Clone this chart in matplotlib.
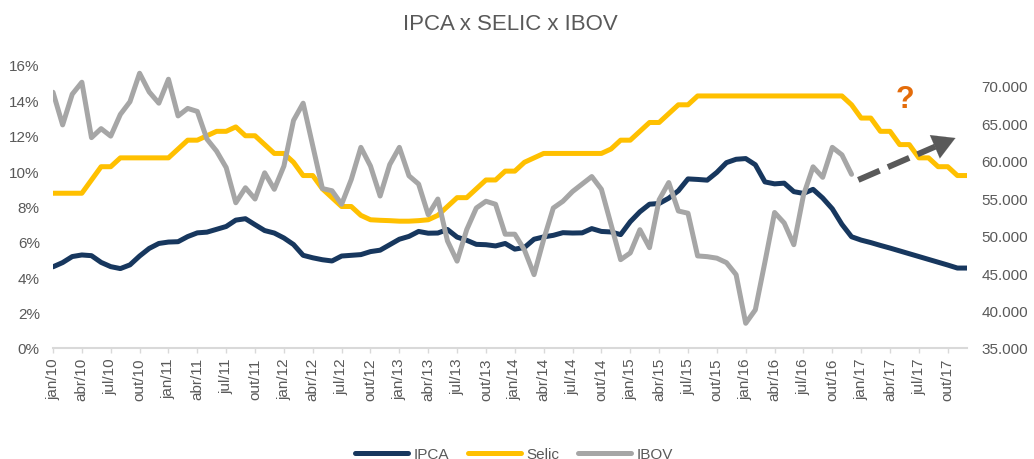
import numpy as np
import matplotlib
matplotlib.use('Agg')
import matplotlib.pyplot as plt
from matplotlib.ticker import FuncFormatter

plt.rcParams['font.family'] = ['Liberation Sans', 'DejaVu Sans']

# meses jan/10 .. dez/17
meses = ['jan', 'fev', 'mar', 'abr', 'mai', 'jun', 'jul', 'ago', 'set', 'out', 'nov', 'dez']
anos = ['10', '11', '12', '13', '14', '15', '16', '17']
labels = [m + '/' + a for a in anos for m in meses]

# IPCA 12m (%)
ipca = [4.59, 4.83, 5.17, 5.26, 5.22, 4.84, 4.60, 4.49, 4.70, 5.20, 5.63, 5.91,
        5.99, 6.01, 6.30, 6.51, 6.55, 6.71, 6.87, 7.23, 7.31, 6.97, 6.64, 6.50,
        6.22, 5.85, 5.24, 5.10, 4.99, 4.92, 5.20, 5.24, 5.28, 5.45, 5.53, 5.84,
        6.15, 6.31, 6.59, 6.49, 6.50, 6.70, 6.27, 6.09, 5.86, 5.84, 5.77, 5.91,
        5.59, 5.68, 6.15, 6.28, 6.37, 6.52, 6.50, 6.51, 6.75, 6.59, 6.56, 6.41,
        7.14, 7.70, 8.13, 8.17, 8.47, 8.89, 9.56, 9.53, 9.49, 9.93, 10.48, 10.67,
        10.71, 10.36, 9.39, 9.28, 9.32, 8.84, 8.74, 8.97, 8.48, 7.87, 6.99, 6.29,
        6.10, 5.96, 5.80, 5.65, 5.49, 5.33, 5.17, 5.01, 4.85, 4.69, 4.52, 4.52]

# Selic meta (%)
selic = [8.75, 8.75, 8.75, 8.75, 9.50, 10.25, 10.25, 10.75, 10.75, 10.75, 10.75, 10.75,
         10.75, 11.25, 11.75, 11.75, 12.00, 12.25, 12.25, 12.50, 12.00, 12.00, 11.50, 11.00,
         11.00, 10.50, 9.75, 9.75, 9.00, 8.50, 8.00, 8.00, 7.50, 7.25, 7.22, 7.20,
         7.17, 7.17, 7.20, 7.25, 7.50, 8.00, 8.50, 8.50, 9.00, 9.50, 9.50, 10.00,
         10.00, 10.50, 10.75, 11.00, 11.00, 11.00, 11.00, 11.00, 11.00, 11.00, 11.25, 11.75,
         11.75, 12.25, 12.75, 12.75, 13.25, 13.75, 13.75, 14.25, 14.25, 14.25, 14.25, 14.25,
         14.25, 14.25, 14.25, 14.25, 14.25, 14.25, 14.25, 14.25, 14.25, 14.25, 14.25, 13.75,
         13.00, 13.00, 12.25, 12.25, 11.50, 11.50, 10.75, 10.75, 10.25, 10.25, 9.75, 9.75]

# Ibovespa (pontos), ate dez/16
ibov = [69160, 64800, 68900, 70500, 63100, 64300, 63300, 66200, 67900, 71700, 69200, 67700,
        70900, 66000, 67000, 66600, 62900, 61300, 59100, 54400, 56400, 54900, 58400, 56200,
        59300, 65400, 67700, 62000, 56300, 56000, 54200, 57500, 61800, 59300, 55300, 59500,
        61800, 58000, 56900, 52800, 54900, 49300, 46600, 50800, 53700, 54600, 54200, 50200,
        50200, 48100, 44800, 49500, 53700, 54600, 55900, 56900, 57900, 56200, 51500, 46800,
        47700, 50800, 48400, 54800, 57100, 53300, 53000, 47300, 47200, 47000, 46400, 44800,
        38300, 40100, 46500, 53100, 51700, 48800, 55400, 59200, 57800, 61800, 60800, 58200]
ibov = ibov + [np.nan] * (len(labels) - len(ibov))

# seta de tendencia (eixo IBOV) e interrogacao
seta_ini = (83.7, 57450)
seta_base = (91.7, 61900)
seta_fim = (93.8, 63050)
interrog = (88.6, 14.1)

cinza = '#595959'

fig = plt.figure(figsize=(10.34, 4.6), dpi=100)
ax = fig.add_axes([53 / 1034, 1 - 349 / 460, (967 - 53) / 1034, (349 - 66) / 460])
ax2 = ax.twinx()

x = np.arange(len(labels))
l1, = ax.plot(x, ipca, color='#17375E', lw=3.6, solid_capstyle='round', solid_joinstyle='round', label='IPCA')
l2, = ax.plot(x, selic, color='#FFC000', lw=3.6, solid_capstyle='round', solid_joinstyle='round', label='Selic')
l3, = ax2.plot(x, ibov, color='#A6A6A6', lw=3.6, solid_capstyle='round', solid_joinstyle='round', label='IBOV')

# seta tracejada
ax2.plot([seta_ini[0], seta_base[0]], [seta_ini[1], seta_base[1]], color=cinza, lw=4.3,
         dashes=(3.9, 1.5), solid_capstyle='butt', dash_capstyle='butt')
ax2.annotate('', xy=seta_fim, xytext=seta_base,
             arrowprops=dict(arrowstyle='-|>,head_length=1.0,head_width=0.57', mutation_scale=16,
                             color=cinza, lw=0.1, shrinkA=0, shrinkB=0))
ax.text(interrog[0], interrog[1], '?', color='#E46C0A', fontsize=22, fontweight='bold',
        ha='center', va='center')

ax.set_xlim(0, len(labels) - 1)
ax.set_ylim(0, 16)
ax2.set_ylim(35000, 72800)

ax.set_xticks(x[::3])
ax.set_xticklabels(labels[::3], rotation=90)
ax.set_yticks(range(0, 17, 2))
ax.yaxis.set_major_formatter(FuncFormatter(lambda v, p: '%d%%' % v))
ax2.set_yticks(range(35000, 70001, 5000))
ax2.yaxis.set_major_formatter(FuncFormatter(lambda v, p: '{:,.0f}'.format(v).replace(',', '.')))

ax.tick_params(axis='x', length=3.6, width=1, color='#D9D9D9', pad=3, labelsize=11, labelcolor=cinza)
ax.tick_params(axis='y', length=0, pad=9.5, labelsize=11, labelcolor=cinza)
ax2.tick_params(axis='y', length=0, pad=10.5, labelsize=11, labelcolor=cinza)

for a in (ax, ax2):
    for s in ('top', 'left', 'right'):
        a.spines[s].set_visible(False)
ax2.spines['bottom'].set_visible(False)
ax.spines['bottom'].set_color('#D9D9D9')
ax.spines['bottom'].set_linewidth(1.5)

fig.text(510 / 1034, 1 - 25 / 460, 'IPCA x SELIC x IBOV', ha='center', va='center',
         fontsize=16, color=cinza)

fig.legend([l1, l2, l3], ['IPCA', 'Selic', 'IBOV'], loc='center', bbox_to_anchor=(514 / 1034, 1 - 455 / 460),
           ncol=3, frameon=False, fontsize=11, handlelength=3.5, handletextpad=0.35,
           columnspacing=1.2, labelcolor=cinza)

fig.savefig('out.png', dpi=100)
